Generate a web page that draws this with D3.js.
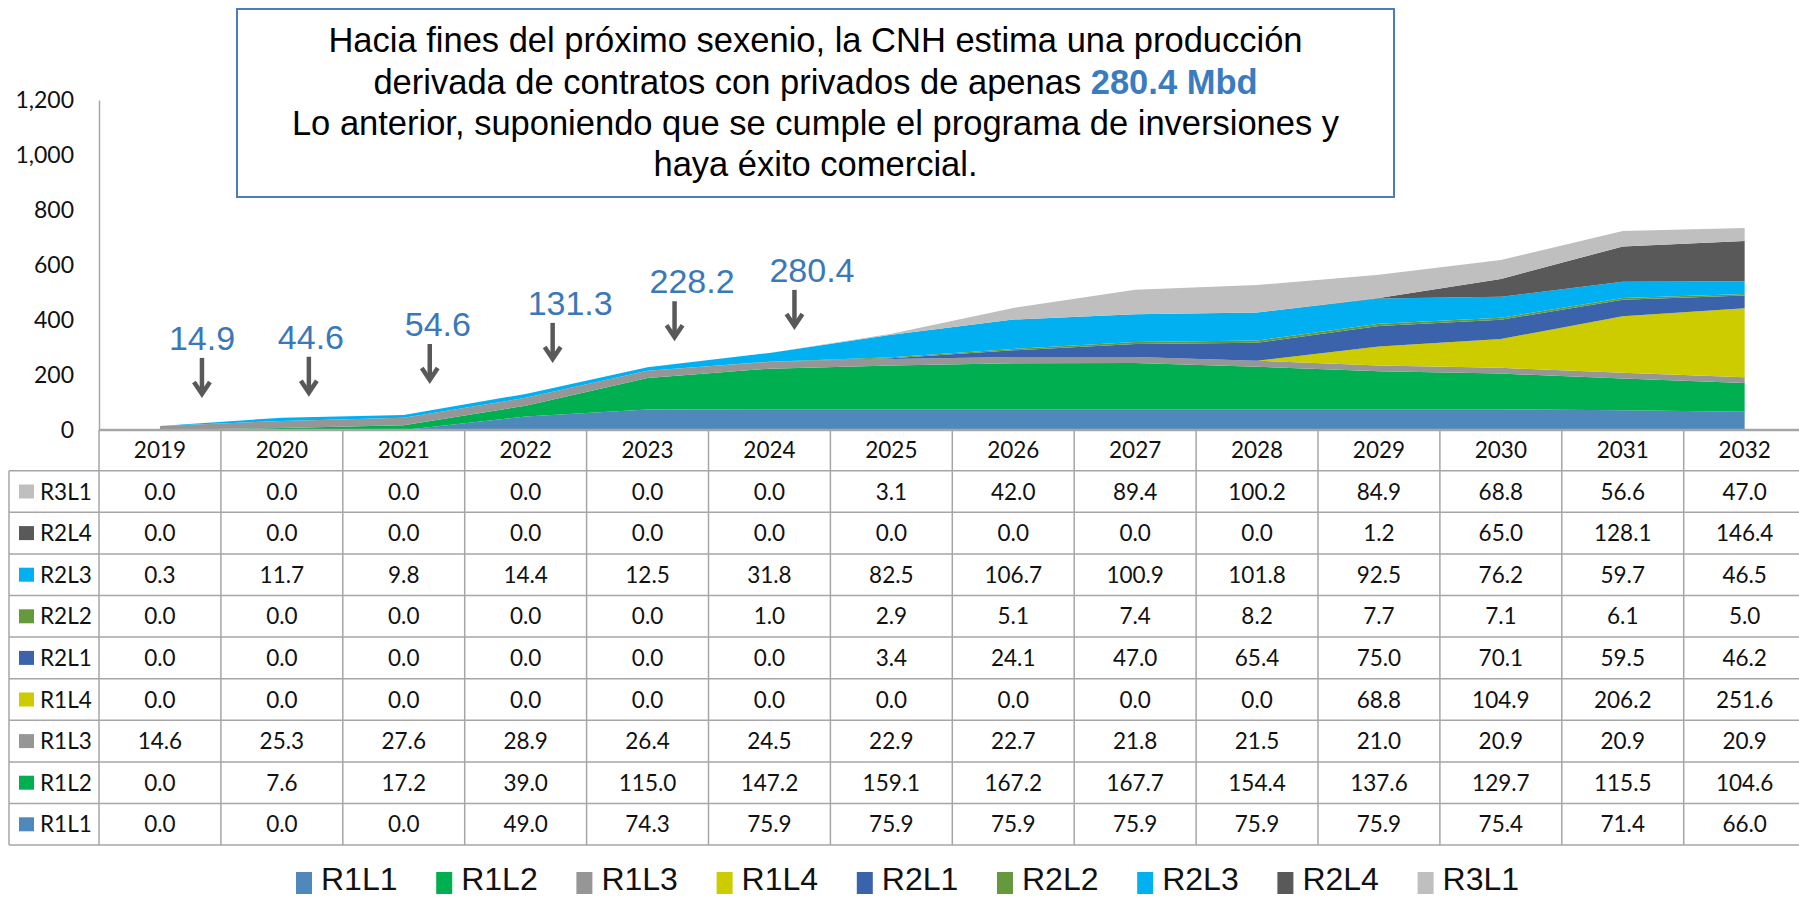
<!DOCTYPE html>
<html>
<head>
<meta charset="utf-8">
<script src="https://cdnjs.cloudflare.com/ajax/libs/d3/7.8.5/d3.min.js"></script>
<style>
  body { margin: 0; background: #ffffff; }
  svg { display: block; }
  .tick-label { font-family: Lato, "Open Sans", sans-serif; font-size: 23px; fill: #111; }
  .cell, .row-name, .year { font-family: Lato, "Open Sans", sans-serif; font-size: 22.5px; fill: #111; }
  .title { font-family: "Liberation Sans", Arial, sans-serif; font-size: 34.5px; fill: #000; }
  .callout { font-family: "Liberation Sans", Arial, sans-serif; font-size: 34px; fill: #3B78B8; }
  .legend-label { font-family: "Liberation Sans", Arial, sans-serif; font-size: 32px; fill: #111; }
</style>
</head>
<body>
<svg id="chart" width="1799" height="898"></svg>
<script>
//-----------------------------------------------------//

// Data (Mbd)
const years = [2019, 2020, 2021, 2022, 2023, 2024, 2025, 2026, 2027, 2028, 2029, 2030, 2031, 2032];

const r1l1 = [0.0, 0.0, 0.0, 49.0, 74.3, 75.9, 75.9, 75.9, 75.9, 75.9, 75.9, 75.4, 71.4, 66.0];
const r1l2 = [0.0, 7.6, 17.2, 39.0, 115.0, 147.2, 159.1, 167.2, 167.7, 154.4, 137.6, 129.7, 115.5, 104.6];
const r1l3 = [14.6, 25.3, 27.6, 28.9, 26.4, 24.5, 22.9, 22.7, 21.8, 21.5, 21.0, 20.9, 20.9, 20.9];
const r1l4 = [0.0, 0.0, 0.0, 0.0, 0.0, 0.0, 0.0, 0.0, 0.0, 0.0, 68.8, 104.9, 206.2, 251.6];
const r2l1 = [0.0, 0.0, 0.0, 0.0, 0.0, 0.0, 3.4, 24.1, 47.0, 65.4, 75.0, 70.1, 59.5, 46.2];
const r2l2 = [0.0, 0.0, 0.0, 0.0, 0.0, 1.0, 2.9, 5.1, 7.4, 8.2, 7.7, 7.1, 6.1, 5.0];
const r2l3 = [0.3, 11.7, 9.8, 14.4, 12.5, 31.8, 82.5, 106.7, 100.9, 101.8, 92.5, 76.2, 59.7, 46.5];
const r2l4 = [0.0, 0.0, 0.0, 0.0, 0.0, 0.0, 0.0, 0.0, 0.0, 0.0, 1.2, 65.0, 128.1, 146.4];
const r3l1 = [0.0, 0.0, 0.0, 0.0, 0.0, 0.0, 3.1, 42.0, 89.4, 100.2, 84.9, 68.8, 56.6, 47.0];

const seriesNames = ["R1L1", "R1L2", "R1L3", "R1L4", "R2L1", "R2L2", "R2L3", "R2L4", "R3L1"];
const seriesValues = [r1l1, r1l2, r1l3, r1l4, r2l1, r2l2, r2l3, r2l4, r3l1];
const seriesColors = ["#4F88BB", "#00B050", "#969696", "#CCCC00", "#3A63AB", "#659A3C", "#00B0F0", "#595959", "#BFBFBF"];

const yTicks = [0, 200, 400, 600, 800, 1000, 1200];

// years that get a callout with the total
const calloutYears = [2019, 2020, 2021, 2022, 2023, 2024];

// callout nudges (layout only)
const calloutArrowDx = [42, 27, 26, 27, 27, 25];
const calloutTextDx = [-33, -31, -25, -25, -25, -25];
const calloutGap = [31, 24, 34, 34, 29, 26];

//-----------------------------------------------------//

var svg = null;
var x = null;
var y = null;
var rows = null;

const plotLeft = 99;
const colWidth = 121.9;
const plotTop = 100;
const plotBottom = 430;
const headerBottom = 470.7;
const rowHeight = 41.6;
const tableLeft = 9;
const gridColor = "#A6A6A6";

document.addEventListener("DOMContentLoaded", function()
{
  svg = d3.select("#chart");

  rows = years.map(function(yr, i) {
    let r = { year: yr };
    seriesNames.forEach(function(name, k) { r[name] = seriesValues[k][i]; });
    return r;
  });

  x = d3.scaleBand().domain(years).range([plotLeft, plotLeft + colWidth * years.length]);
  y = d3.scaleLinear().domain([0, 1200]).range([plotBottom, plotTop]);

  drawAreas();
  drawAxes();
  drawTable();
  drawCallouts();
  drawTitle();
  drawLegend();
});

function xc(yr)
{
  return x(yr) + x.bandwidth() / 2;
}

function total(yr)
{
  let i = years.indexOf(yr);
  return d3.sum(seriesValues, v => v[i]);
}

function drawAreas()
{
  let stack = d3.stack().keys(seriesNames);
  let layers = stack(rows);

  let area = d3.area()
    .x(d => xc(d.data.year))
    .y0(d => y(d[0]))
    .y1(d => y(d[1]));

  svg.append("g").selectAll("path")
    .data(layers)
    .enter().append("path")
    .attr("d", area)
    .attr("fill", (d, i) => seriesColors[i]);
}

function drawAxes()
{
  let yAxis = d3.axisLeft(y)
    .tickValues(yTicks)
    .tickSize(0)
    .tickSizeOuter(0)
    .tickPadding(25)
    .tickFormat(d3.format(","));

  let gy = svg.append("g")
    .attr("transform", `translate(${plotLeft},0)`)
    .call(yAxis);
  gy.select(".domain").attr("stroke", gridColor).attr("stroke-width", 1.5);
  gy.selectAll("text").attr("class", "tick-label").attr("font-size", null).attr("font-family", null);

  let xAxis = d3.axisBottom(x).tickSize(0).tickPadding(12);
  let gx = svg.append("g")
    .attr("transform", `translate(0,${plotBottom})`)
    .call(xAxis);
  gx.select(".domain").remove();
  gx.selectAll("text").attr("class", "year").attr("font-size", null).attr("font-family", null);
}

function drawTable()
{
  let right = plotLeft + colWidth * years.length;
  let tableBottom = headerBottom + rowHeight * seriesNames.length;
  let grid = svg.append("g").attr("stroke", gridColor).attr("stroke-width", 1.5);

  // header row lines
  grid.append("line")
    .attr("x1", plotLeft).attr("x2", right)
    .attr("y1", plotBottom).attr("y2", plotBottom)
    .attr("stroke-width", 2.5);

  // horizontal row lines
  d3.range(seriesNames.length + 1).forEach(function(k) {
    let yy = headerBottom + k * rowHeight;
    grid.append("line")
      .attr("x1", tableLeft).attr("x2", right)
      .attr("y1", yy).attr("y2", yy);
  });

  // vertical lines
  grid.append("line")
    .attr("x1", tableLeft).attr("x2", tableLeft)
    .attr("y1", headerBottom).attr("y2", tableBottom);
  years.concat([null]).forEach(function(yr, k) {
    let xx = plotLeft + k * colWidth;
    grid.append("line")
      .attr("x1", xx).attr("x2", xx)
      .attr("y1", plotBottom).attr("y2", tableBottom);
  });

  // rows: top row is the last series
  let order = d3.range(seriesNames.length).reverse();
  let fmt = d3.format(".1f");

  order.forEach(function(k, r) {
    let cy = headerBottom + (r + 0.5) * rowHeight;

    svg.append("rect")
      .attr("x", 19).attr("y", cy - 7)
      .attr("width", 15).attr("height", 14)
      .attr("fill", seriesColors[k]);

    svg.append("text")
      .attr("class", "row-name")
      .attr("x", 40).attr("y", cy)
      .attr("dy", "0.36em")
      .text(seriesNames[k]);

    svg.append("g").selectAll("text")
      .data(seriesValues[k])
      .enter().append("text")
      .attr("class", "cell")
      .attr("x", (d, i) => xc(years[i]))
      .attr("y", cy)
      .attr("dy", "0.36em")
      .attr("text-anchor", "middle")
      .text(d => fmt(d));
  });
}

function drawCallouts()
{
  let fmt = d3.format(".1f");
  let g = svg.append("g");

  calloutYears.forEach(function(yr, i) {
    let t = total(yr);
    let ax = xc(yr) + calloutArrowDx[i];
    let tip = y(t) - calloutGap[i];
    let top = tip - 37;

    g.append("line")
      .attr("x1", ax).attr("x2", ax)
      .attr("y1", top).attr("y2", tip - 2)
      .attr("stroke", "#595959")
      .attr("stroke-width", 4.5);

    g.append("polyline")
      .attr("points", `${ax - 8},${tip - 13} ${ax},${tip - 1} ${ax + 8},${tip - 13}`)
      .attr("fill", "none")
      .attr("stroke", "#595959")
      .attr("stroke-width", 4.5);

    g.append("text")
      .attr("class", "callout")
      .attr("x", ax + calloutTextDx[i])
      .attr("y", top - 8)
      .text(fmt(t));
  });
}

function drawTitle()
{
  let boxX = 237, boxY = 9, boxW = 1157, boxH = 188;
  let cx = boxX + boxW / 2;

  svg.append("rect")
    .attr("x", boxX).attr("y", boxY)
    .attr("width", boxW).attr("height", boxH)
    .attr("fill", "#ffffff")
    .attr("stroke", "#4A7EBB")
    .attr("stroke-width", 2);

  let t = svg.append("text")
    .attr("class", "title")
    .attr("text-anchor", "middle");

  t.append("tspan").attr("x", cx).attr("y", 52)
    .text("Hacia fines del próximo sexenio, la CNH estima una producción");

  let l2 = t.append("tspan").attr("x", cx).attr("y", 93.5);
  l2.append("tspan").text("derivada de contratos con privados de apenas ");
  l2.append("tspan")
    .attr("font-weight", "bold")
    .attr("fill", "#3B7CC0")
    .text(d3.format(".1f")(total(2024)) + " Mbd");

  t.append("tspan").attr("x", cx).attr("y", 135)
    .text("Lo anterior, suponiendo que se cumple el programa de inversiones y");
  t.append("tspan").attr("x", cx).attr("y", 176)
    .text("haya éxito comercial.");
}

function drawLegend()
{
  let g = svg.append("g").attr("transform", "translate(296,0)");

  let item = g.selectAll("g")
    .data(seriesNames)
    .enter().append("g")
    .attr("transform", (d, i) => `translate(${i * 140.2},0)`);

  item.append("rect")
    .attr("x", 0).attr("y", 872)
    .attr("width", 16).attr("height", 22)
    .attr("fill", (d, i) => seriesColors[i]);

  item.append("text")
    .attr("class", "legend-label")
    .attr("x", 25).attr("y", 890)
    .text(d => d);
}
</script>
</body>
</html>
